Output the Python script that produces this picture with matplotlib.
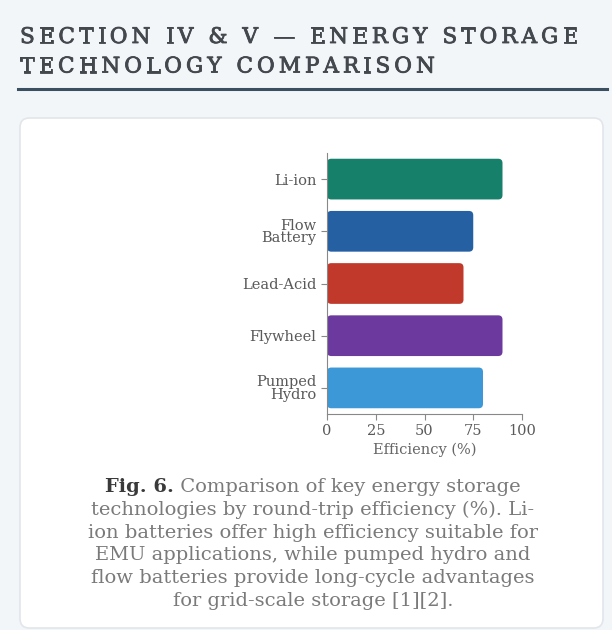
import matplotlib.pyplot as plt
import matplotlib.patheffects as pe
from matplotlib.patches import FancyBboxPatch
from matplotlib.lines import Line2D

# storage technologies and round-trip efficiency (%)
technologies = ["Li-ion", "Flow\nBattery", "Lead-Acid", "Flywheel", "Pumped\nHydro"]
efficiency = [90, 75, 70, 90, 80]
bar_colors = ["#17806b", "#2560a3", "#c0392b", "#6c3a9e", "#3c98d6"]
x_ticks = [0, 25, 50, 75, 100]

title_lines = ["SECTION IV & V \u2014 ENERGY STORAGE", "TECHNOLOGY COMPARISON"]
caption_bold = "Fig. 6."
caption_lines = [
    " Comparison of key energy storage",
    "technologies by round-trip efficiency (%). Li-",
    "ion batteries offer high efficiency suitable for",
    "EMU applications, while pumped hydro and",
    "flow batteries provide long-cycle advantages",
    "for grid-scale storage [1][2].",
]

plt.rcParams["font.family"] = ["DejaVu Serif"]
W, H = 612, 630
fig = plt.figure(figsize=(W / 100, H / 100), dpi=100)
fig.patch.set_facecolor("#f3f6f9")
fig.canvas.draw()
renderer = fig.canvas.get_renderer()


def fx(px):
    return px / W


def fy(py):
    return 1 - py / H


def text_width(s, **kw):
    t = fig.text(0, 0, s, **kw)
    w = t.get_window_extent(renderer).width
    t.remove()
    return w


def spaced_text(x0, y, s, gap, effects=None, **kw):
    # draw a line one glyph at a time so the letters can be tracked out
    x = x0
    for ch in s:
        t = fig.text(fx(x), fy(y), ch, va="center", ha="left", **kw)
        if effects:
            t.set_path_effects(effects)
        x += text_width(ch, **kw) + gap


# page heading with wide letter spacing, slightly heavier strokes
title_kw = dict(fontsize=15.5, color="#43484e")
title_fx = [pe.withStroke(linewidth=0.6, foreground="#43484e")]
raw = sum(text_width(c, **title_kw) for c in title_lines[0])
gap = (578 - 20 - raw) / (len(title_lines[0]) - 1)
for i, line in enumerate(title_lines):
    spaced_text(20, 37 + i * 29.5, line, gap, effects=title_fx, **title_kw)
fig.add_artist(Line2D([fx(18), fx(607)], [fy(89), fy(89)], color="#3b4f63", lw=2.2))

# white card
card = FancyBboxPatch((fx(20), fy(628)), fx(583), 510 / H,
                      boxstyle="round,pad=0,rounding_size=0.015",
                      transform=fig.transFigure, facecolor="white",
                      edgecolor="#e2e6ea", lw=1.2, zorder=0)
fig.add_artist(card)

# bar chart
ax = fig.add_axes([fx(327), fy(414), fx(195), (414 - 153) / H])
ax.set_facecolor("white")
ypos = list(range(len(technologies)))
bar_h = 0.78
ax.set_xlim(0, 100)
ax.set_ylim(len(technologies) - 0.5, -0.5)
# rounded bars; mutation_aspect keeps the corner radius equal in x and y pixels
aspect = (195 / 100) / (261 / len(technologies))
for y, v, c in zip(ypos, efficiency, bar_colors):
    ax.add_patch(FancyBboxPatch((0, y - bar_h / 2), v, bar_h,
                                boxstyle="round,pad=0,rounding_size=2.2",
                                mutation_aspect=aspect, facecolor=c,
                                edgecolor="none", zorder=2))
ax.set_yticks(ypos)
ax.set_yticklabels(technologies, fontsize=10.5, linespacing=0.85)
ax.set_xticks(x_ticks)
ax.set_xticklabels([str(t) for t in x_ticks], fontsize=10.5)
ax.set_xlabel("Efficiency (%)", fontsize=10.5, color="#666666", labelpad=3)
for side in ["top", "right"]:
    ax.spines[side].set_visible(False)
for side in ["left", "bottom"]:
    ax.spines[side].set_color("#888888")
    ax.spines[side].set_linewidth(0.8)
    ax.spines[side].set_zorder(3)
ax.tick_params(colors="#888888", length=4, width=0.8, labelcolor="#5a5a5a")

# caption, first line has a bold lead-in
cap_size = 14
cap_color = "#7a7a7a"
cx = 313
wb = text_width(caption_bold, fontsize=cap_size, fontweight="bold")
wr = text_width(caption_lines[0], fontsize=cap_size)
start = cx - (wb + wr) / 2
fig.text(fx(start), fy(487), caption_bold, fontsize=cap_size, fontweight="bold",
         color="#3a3a3a", va="center")
fig.text(fx(start + wb), fy(487), caption_lines[0], fontsize=cap_size,
         color=cap_color, va="center")
for i, line in enumerate(caption_lines[1:], start=1):
    fig.text(fx(cx), fy(487 + i * 22.8), line, fontsize=cap_size,
             color=cap_color, ha="center", va="center")

fig.savefig("out.png", dpi=100, facecolor=fig.get_facecolor())
